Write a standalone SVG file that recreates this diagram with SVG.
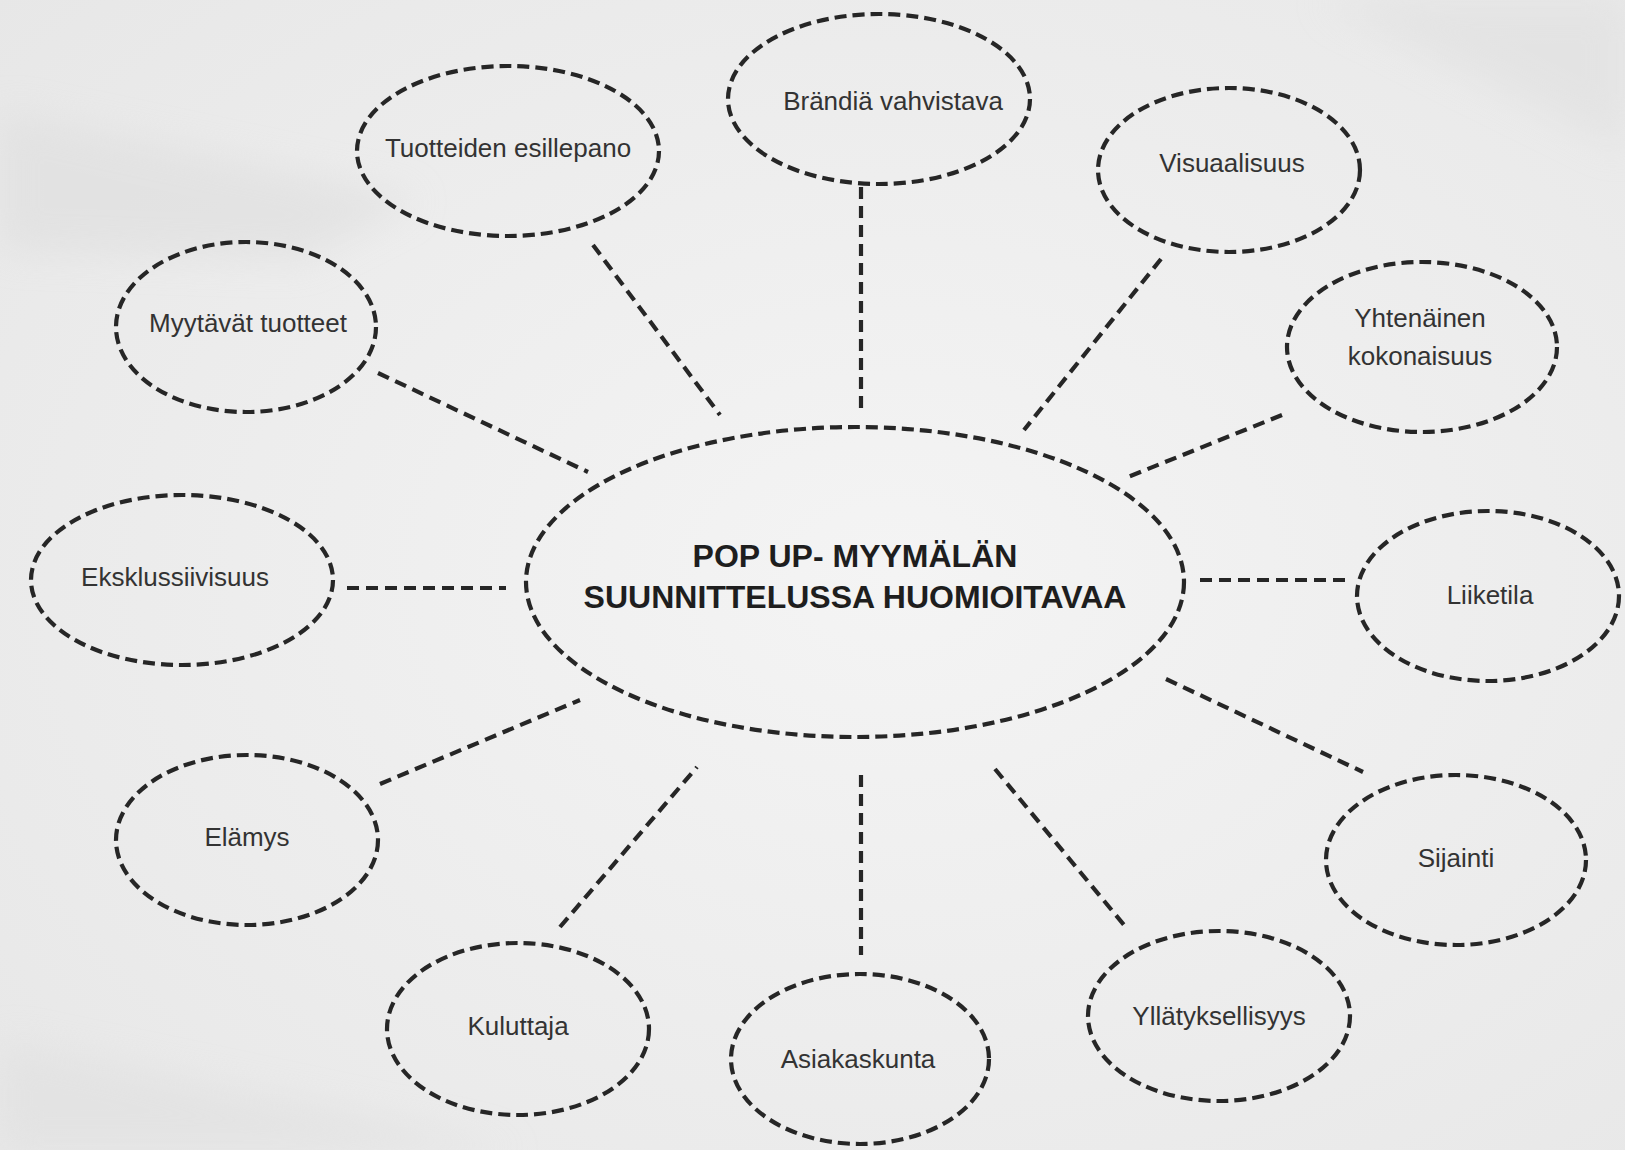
<svg xmlns="http://www.w3.org/2000/svg" width="1625" height="1150" viewBox="0 0 1625 1150">
<defs>
<style>
.bubble{fill:none;stroke:#262626;stroke-width:4.2;stroke-dasharray:12 6;}
.link{fill:none;stroke:#262626;stroke-width:4.2;stroke-dasharray:12 7;}
.lbl{font-family:"Liberation Sans",Arial,sans-serif;font-size:26px;fill:#333333;text-anchor:middle;}
.title{font-family:"Liberation Sans",Arial,sans-serif;font-size:32px;font-weight:bold;fill:#1e1e1e;text-anchor:middle;}
</style>
<radialGradient id="paper" cx="0.55" cy="0.5" r="0.75">
<stop offset="0" stop-color="#f4f4f4"/>
<stop offset="1" stop-color="#e7e7e7"/>
</radialGradient>
<filter id="soft" x="-20%" y="-20%" width="140%" height="140%">
<feGaussianBlur stdDeviation="18"/>
</filter>
</defs>
<rect x="0" y="0" width="1625" height="1150" fill="url(#paper)"/>
<g filter="url(#soft)" opacity="0.6">
<path d="M0 110 L420 200 L300 260 L0 250 Z" fill="#dedede"/>
<path d="M1320 0 L1625 0 L1625 150 Z" fill="#e0e0e0"/>
<path d="M0 1040 L520 1150 L0 1150 Z" fill="#e0e0e0"/>
</g>

<g id="connectors">
<line class="link" x1="593" y1="245" x2="720" y2="415"/>
<line class="link" x1="861" y1="187" x2="861" y2="412"/>
<line class="link" x1="1161" y1="259" x2="1024" y2="430"/>
<line class="link" x1="1282" y1="415" x2="1128" y2="477"/>
<line class="link" x1="378" y1="373" x2="588" y2="472"/>
<line class="link" x1="347" y1="588" x2="506" y2="588"/>
<line class="link" x1="1200" y1="580" x2="1347" y2="580"/>
<line class="link" x1="380" y1="784" x2="580" y2="700"/>
<line class="link" x1="1166" y1="679" x2="1363" y2="772"/>
<line class="link" x1="560" y1="927" x2="697" y2="767"/>
<line class="link" x1="861" y1="775" x2="861" y2="955"/>
<line class="link" x1="995" y1="769" x2="1124" y2="925"/>
</g>

<g id="center">
<ellipse class="bubble" cx="855" cy="582" rx="329" ry="155"/>
<text class="title" x="855" y="567">POP UP- MYYMÄLÄN</text>
<text class="title" x="855" y="608">SUUNNITTELUSSA HUOMIOITAVAA</text>
</g>

<g id="tuotteiden-esillepano">
<ellipse class="bubble" cx="508" cy="151" rx="151" ry="85"/>
<text class="lbl" x="508" y="157">Tuotteiden esillepano</text>
</g>
<g id="brandia-vahvistava">
<ellipse class="bubble" cx="879" cy="99" rx="151" ry="85"/>
<text class="lbl" x="893" y="110">Brändiä vahvistava</text>
</g>
<g id="visuaalisuus">
<ellipse class="bubble" cx="1229" cy="170" rx="131" ry="82"/>
<text class="lbl" x="1232" y="172">Visuaalisuus</text>
</g>
<g id="yhtenainen-kokonaisuus">
<ellipse class="bubble" cx="1422" cy="347" rx="135" ry="85"/>
<text class="lbl" x="1420" y="327">Yhtenäinen</text>
<text class="lbl" x="1420" y="365">kokonaisuus</text>
</g>
<g id="myytavat-tuotteet">
<ellipse class="bubble" cx="246" cy="327" rx="130" ry="85"/>
<text class="lbl" x="248" y="332">Myytävät tuotteet</text>
</g>
<g id="eksklussiivisuus">
<ellipse class="bubble" cx="182" cy="580" rx="151" ry="85"/>
<text class="lbl" x="175" y="586">Eksklussiivisuus</text>
</g>
<g id="liiketila">
<ellipse class="bubble" cx="1488" cy="596" rx="131" ry="85"/>
<text class="lbl" x="1490" y="604">Liiketila</text>
</g>
<g id="elamys">
<ellipse class="bubble" cx="247" cy="840" rx="131" ry="85"/>
<text class="lbl" x="247" y="846">Elämys</text>
</g>
<g id="sijainti">
<ellipse class="bubble" cx="1456" cy="860" rx="130" ry="85"/>
<text class="lbl" x="1456" y="867">Sijainti</text>
</g>
<g id="kuluttaja">
<ellipse class="bubble" cx="518" cy="1029" rx="131" ry="86"/>
<text class="lbl" x="518" y="1035">Kuluttaja</text>
</g>
<g id="asiakaskunta">
<ellipse class="bubble" cx="860" cy="1059" rx="129" ry="85"/>
<text class="lbl" x="858" y="1068">Asiakaskunta</text>
</g>
<g id="yllatyksellisyys">
<ellipse class="bubble" cx="1219" cy="1016" rx="131" ry="85"/>
<text class="lbl" x="1219" y="1025">Yllätyksellisyys</text>
</g>
</svg>
